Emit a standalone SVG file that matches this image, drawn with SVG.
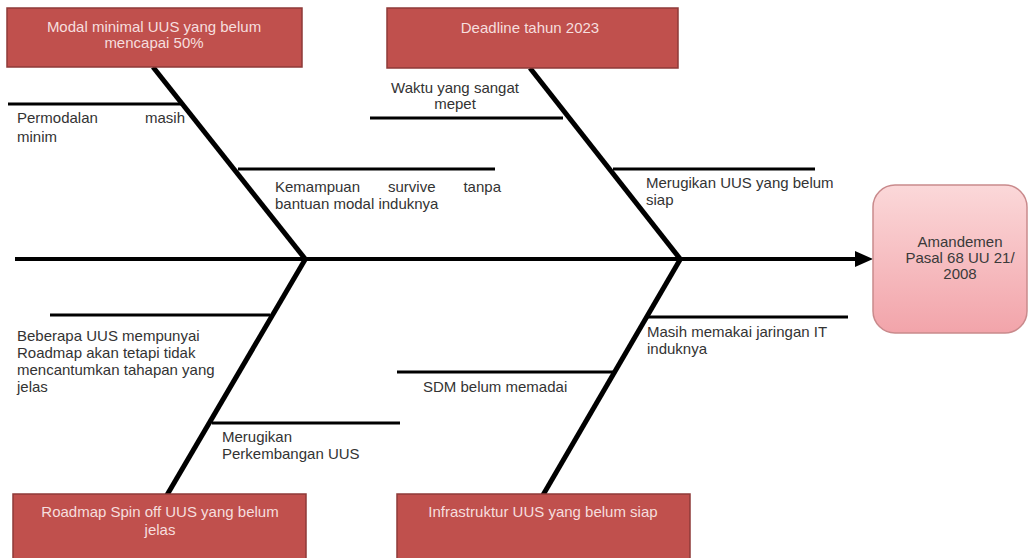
<svg xmlns="http://www.w3.org/2000/svg" width="1028" height="558" viewBox="0 0 1028 558">
<defs>
<style>
.cause{fill:#c0504d;stroke:#8e3a38;stroke-width:1.5}
.ctext{font-family:"Liberation Sans",Arial,sans-serif;font-size:15px;fill:#f6dede;text-anchor:middle}
.lbl{font-family:"Liberation Sans",Arial,sans-serif;font-size:15px;fill:#333333}
.bone{stroke:#000;stroke-width:5;stroke-linecap:butt;fill:none}
.sub{stroke:#000;stroke-width:3;fill:none}
.spine{stroke:#000;stroke-width:4;fill:none}
.etext{font-family:"Liberation Sans",Arial,sans-serif;font-size:15px;fill:#3a3a3a;text-anchor:middle}
</style>
<linearGradient id="pink" x1="0" y1="0" x2="0" y2="1">
<stop offset="0" stop-color="#fbd8d9"/>
<stop offset="1" stop-color="#f2a4aa"/>
</linearGradient>
<marker id="arr" markerWidth="4.5" markerHeight="4" refX="0" refY="2" orient="auto" markerUnits="strokeWidth">
<polygon points="0,0 4.5,2 0,4" fill="#000"/>
</marker>
</defs>
<rect width="1028" height="558" fill="#fff"/>
<g id="connectors">
<line class="spine" x1="15" y1="259" x2="855" y2="259" marker-end="url(#arr)"/>
<line class="bone" x1="153" y1="67" x2="306" y2="260"/>
<line class="bone" x1="530" y1="68" x2="681" y2="260"/>
<line class="bone" x1="306" y1="258" x2="167" y2="495"/>
<line class="bone" x1="681" y1="258" x2="543" y2="495"/>
<line class="sub" x1="8" y1="104" x2="182" y2="104"/>
<line class="sub" x1="238" y1="169" x2="495" y2="169"/>
<line class="sub" x1="370" y1="118" x2="563" y2="118"/>
<line class="sub" x1="613" y1="169" x2="815" y2="169"/>
<line class="sub" x1="50" y1="315" x2="270" y2="315"/>
<line class="sub" x1="212" y1="423" x2="400" y2="423"/>
<line class="sub" x1="648" y1="317" x2="848" y2="317"/>
<line class="sub" x1="397" y1="372" x2="613" y2="372"/>
</g>
<g id="cause-modal">
<rect class="cause" x="7" y="8" width="295" height="59"/>
<text class="ctext" x="154" y="32">Modal minimal UUS yang belum</text>
<text class="ctext" x="154" y="48">mencapai 50%</text>
</g>
<g id="cause-deadline">
<rect class="cause" x="387" y="8" width="291" height="60"/>
<text class="ctext" x="530" y="33">Deadline tahun 2023</text>
</g>
<g id="cause-roadmap">
<rect class="cause" x="13" y="494" width="293" height="66"/>
<text class="ctext" x="160" y="517">Roadmap Spin off UUS yang belum</text>
<text class="ctext" x="160" y="535">jelas</text>
</g>
<g id="cause-infrastruktur">
<rect class="cause" x="397" y="494" width="293" height="66"/>
<text class="ctext" x="543" y="517">Infrastruktur UUS yang belum siap</text>
</g>
<g id="effect">
<rect x="873" y="185" width="154" height="148" rx="22" ry="22" fill="url(#pink)" stroke="#c98a8c" stroke-width="1.5"/>
<text class="etext" x="960" y="247">Amandemen</text>
<text class="etext" x="960" y="263">Pasal 68 UU 21/</text>
<text class="etext" x="960" y="279">2008</text>
</g>
<g id="label-permodalan">
<text class="lbl" x="17" y="123">Permodalan</text>
<text class="lbl" x="185" y="123" text-anchor="end">masih</text>
<text class="lbl" x="17" y="142">minim</text>
</g>
<g id="label-kemampuan">
<text class="lbl" x="275" y="192">Kemampuan</text>
<text class="lbl" x="388" y="192">survive</text>
<text class="lbl" x="501" y="192" text-anchor="end">tanpa</text>
<text class="lbl" x="275" y="209">bantuan modal induknya</text>
</g>
<g id="label-waktu">
<text class="lbl" x="455" y="93" text-anchor="middle">Waktu yang sangat</text>
<text class="lbl" x="455" y="109" text-anchor="middle">mepet</text>
</g>
<g id="label-merugikan-uus">
<text class="lbl" x="646" y="188">Merugikan UUS yang belum</text>
<text class="lbl" x="646" y="205">siap</text>
</g>
<g id="label-beberapa">
<text class="lbl" x="17" y="341">Beberapa UUS mempunyai</text>
<text class="lbl" x="17" y="358">Roadmap akan tetapi tidak</text>
<text class="lbl" x="17" y="375">mencantumkan tahapan yang</text>
<text class="lbl" x="17" y="392">jelas</text>
</g>
<g id="label-perkembangan">
<text class="lbl" x="222" y="442">Merugikan</text>
<text class="lbl" x="222" y="459">Perkembangan UUS</text>
</g>
<g id="label-jaringan">
<text class="lbl" x="647" y="337">Masih memakai jaringan IT</text>
<text class="lbl" x="647" y="354">induknya</text>
</g>
<g id="label-sdm">
<text class="lbl" x="423" y="392">SDM belum memadai</text>
</g>
</svg>
